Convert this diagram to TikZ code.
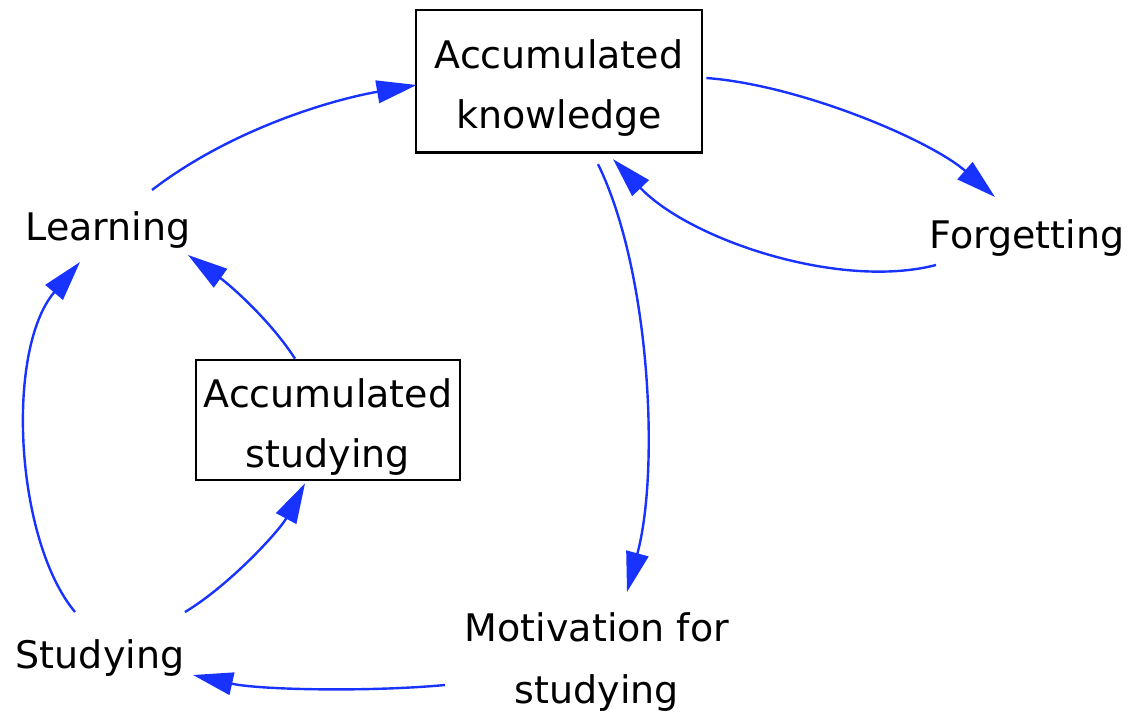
\documentclass[tikz,border=0pt]{standalone}
\usepackage{fontspec}
\setmainfont{DejaVu Sans}
\usetikzlibrary{arrows.meta}
\definecolor{flowblue}{RGB}{24,50,255}
% two-line stock label, set a little below the middle of its box
\newcommand\stocklabel[1]{\raisebox{-4pt}[\height][\depth]{\begin{tabular}{@{}c@{}}#1\end{tabular}}}
\tikzset{
  lbl/.style={font=\fontsize{28.5}{45}\selectfont, align=center, inner sep=0pt},
  stock/.style={font=\fontsize{28.5}{45}\selectfont, inner sep=0pt, draw=black, line width=2pt},
  flow/.style={draw=flowblue, line width=1.8pt,
    -{Triangle[length=30pt,width=17pt]}},
}
\begin{document}
\begin{tikzpicture}[x=0.75pt, y=-0.75pt]
  \useasboundingbox (0,0) rectangle (1135,716);
  % stocks
  \node[stock, minimum width=214.5pt, minimum height=107pt] (ak) at (559,81.5) {\stocklabel{Accumulated\\knowledge}};
  \node[stock, minimum width=198pt, minimum height=90pt] (as) at (328,420) {\stocklabel{Accumulated\\studying}};
  % variables
  \node[lbl] (learn) at (108,230) {Learning};
  \node[lbl] (forget) at (1027,238) {Forgetting};
  \node[lbl] (study) at (100,658) {Studying};
  \node[lbl, font=\fontsize{28.5}{46.5}\selectfont] (motiv) at (597,662) {Motivation for\\studying};
  % links
  \draw[flow] ([shift={(44,-40)}]learn.center) .. controls (230,130) and (330,100) .. ([shift={(2,3.5)}]ak.west);
  \draw[flow] ([shift={(3,-3.5)}]ak.east) .. controls (800,85) and (930,140) .. ([shift={(-32,-41)}]forget.center);
  \draw[flow] ([shift={(-91,27)}]forget.center) .. controls (840,290) and (690,240) .. ([shift={(54,5)}]ak.south);
  \draw[flow] ([shift={(39,10)}]ak.south) .. controls (650,270) and (660,470) .. ([shift={(30,-70)}]motiv.center);
  \draw[flow] ([shift={(-152,23)}]motiv.center) .. controls (370,692) and (260,690) .. ([shift={(93,17)}]study.center);
  \draw[flow] ([shift={(-25,-46)}]study.center) .. controls (15,540) and (5,350) .. ([shift={(-28,32)}]learn.center);
  \draw[flow] ([shift={(85,-46)}]study.center) .. controls (230,585) and (280,530) .. ([shift={(-23,2)}]as.south);
  \draw[flow] ([shift={(-33,0)}]as.north) .. controls (270,320) and (230,285) .. ([shift={(80,25)}]learn.center);
\end{tikzpicture}
\end{document}
